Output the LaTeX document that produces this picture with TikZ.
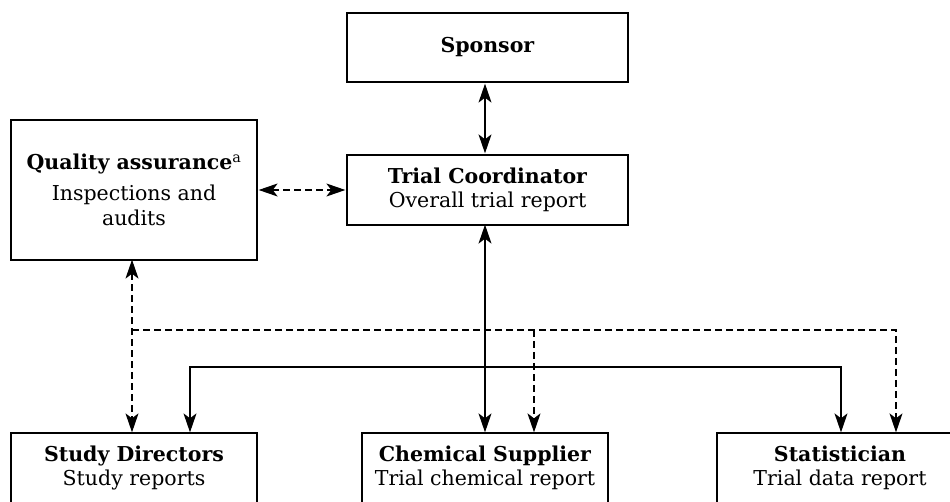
\documentclass[tikz,border=0pt]{standalone}
\usepackage{fontspec}
\setmainfont{DejaVu Serif}
\usetikzlibrary{arrows.meta,calc}
\tikzset{
  box/.style={draw, line width=1.3pt, rectangle, inner sep=0pt},
  txt/.style={align=center, font=\fontsize{20.5}{24}\selectfont, inner sep=0pt},
  conn/.style={line width=1.2pt, draw, >={Stealth[length=19pt,width=13pt,inset=5pt]}},
  tip/.style={->},
  tips/.style={<->},
  dsh/.style={dash pattern=on 7pt off 4pt}
}
\begin{document}
\begin{tikzpicture}[x=1pt,y=-1pt]
\useasboundingbox (0,0) rectangle (950,502);
\clip (0,0) rectangle (950,502);
% boxes
\node[box, minimum width=281pt, minimum height=69pt] (sponsor) at (487.5,47.5) {};
\node[txt] (sponsortxt) at (487.5,47.5) {\textbf{Sponsor}};
\node[box, minimum width=281pt, minimum height=70pt] (tc) at (487.5,190) {};
\node[txt] (tctxt) at (487.5,190) {\textbf{Trial Coordinator}\\Overall trial report};
\node[box, minimum width=246pt, minimum height=140pt] (qa) at (134,190) {};
\node[txt, font=\fontsize{20.5}{25}\selectfont] (qatxt) at (134,190) {\textbf{Quality assurance}\textsuperscript{a}\\[6pt]Inspections and\\audits};
\node[box, minimum width=246pt, minimum height=127pt] (sd) at (134,496.5) {};
\node[txt] (sdtxt) at (134,467.5) {\textbf{Study Directors}\\Study reports};
\node[box, minimum width=246pt, minimum height=127pt] (cs) at (485,496.5) {};
\node[txt] (cstxt) at (485,467.5) {\textbf{Chemical Supplier}\\Trial chemical report};
\node[box, minimum width=246pt, minimum height=127pt] (st) at (840,496.5) {};
\node[txt] (sttxt) at (840,467.5) {\textbf{Statistician}\\Trial data report};
% junction coordinates
\coordinate (dj) at (132,330);
\coordinate (dc) at (534,330);
\coordinate (sj) at (485,367);
% sponsor <-> tc
\draw[conn, tips] ([xshift=-2.5pt, yshift=-1pt]sponsor.south) -- ([xshift=-2.5pt, yshift=1pt]tc.north);
% qa <-> tc
\draw[conn, tips, dsh] ([xshift=1pt]qa.east) -- ([xshift=-1pt]tc.west);
% tc <-> cs
\draw[conn, tips] ([xshift=-2.5pt, yshift=1pt]tc.south) -- (cs.north);
% solid branch to SD and Statistician
\draw[conn, tips] ([xshift=56pt]sd.north) |- (sj) -| ([xshift=1pt]st.north);
% dashed QA <-> SD
\draw[conn, tips, dsh] ([xshift=-2pt, yshift=1pt]qa.south) -- ([xshift=-2pt]sd.north);
% dashed to CS and Statistician
\draw[conn, tip, dsh] (dj) -| ([xshift=56pt]st.north);
\draw[conn, tip, dsh] (dc) -- ([xshift=49pt]cs.north);
\end{tikzpicture}
\end{document}
